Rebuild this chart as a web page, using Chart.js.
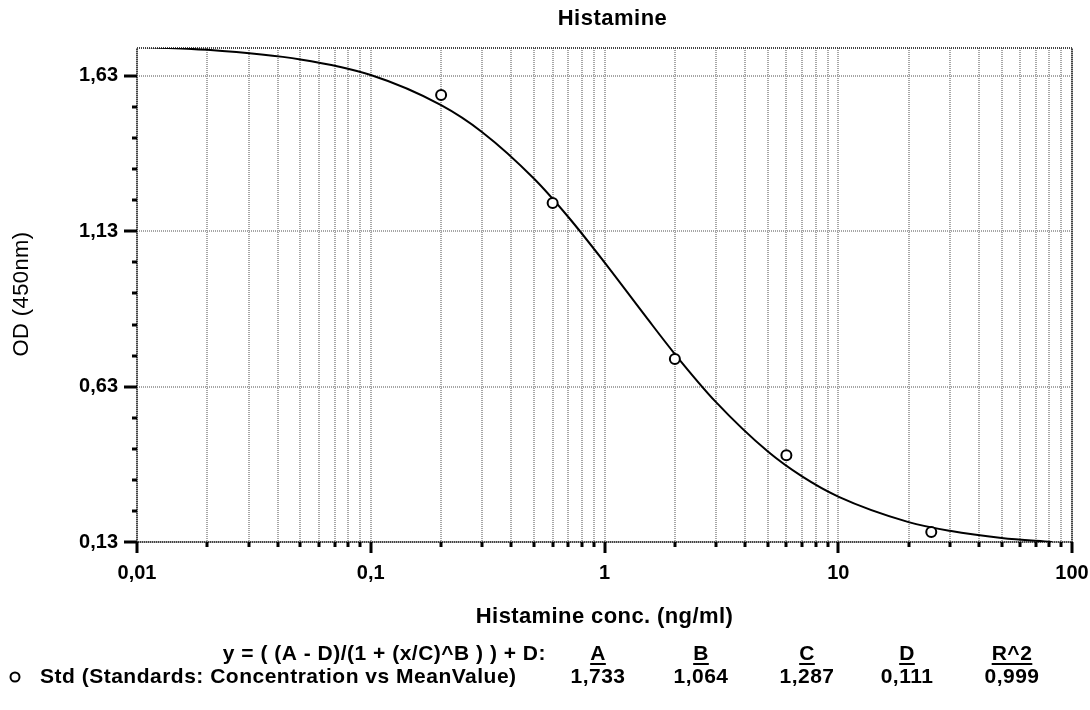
<!DOCTYPE html>
<html>
<head>
<meta charset="utf-8">
<script src="https://cdn.jsdelivr.net/npm/chart.js@4.4.1/dist/chart.umd.min.js"></script>
<style>
  body { margin: 0; background: #fff; }
  canvas { display: block; }
</style>
</head>
<body>
<canvas id="chart" width="1090" height="710"></canvas>
<script>
// standards (measured points)
var stdX = [0.2, 0.6, 2, 6, 25];
var stdY = [1.569, 1.221, 0.719, 0.409, 0.162];

// fitted curve
var curveX = [0.01, 0.02, 0.05, 0.1, 0.2, 0.3, 0.5, 0.7, 1, 1.5, 2, 3, 5, 7, 10, 20, 30, 50, 82];
var curveY = [1.724, 1.714, 1.683, 1.633, 1.536, 1.449, 1.299, 1.176, 1.030, 0.856, 0.735, 0.580, 0.421, 0.341, 0.276, 0.194, 0.166, 0.143, 0.130];

// axes
var xMajor = [0.01, 0.1, 1, 10, 100];
var yMajor = [0.13, 0.63, 1.13, 1.63];
var yMinorStep = 0.1;

// fit table
var fitHeaders = ['A', 'B', 'C', 'D', 'R^2'];
var fitValues = ['1,733', '1,064', '1,287', '0,111', '0,999'];

var FONT = '"Liberation Sans", Arial, sans-serif';

function comma(v, d) {
    return (d === undefined ? String(v) : v.toFixed(d)).replace('.', ',');
}

var xMinor = [];
for (var i = 0; i < xMajor.length - 1; i++) {
    for (var m = 2; m <= 9; m++) xMinor.push(xMajor[i] * m);
}

var decor = {
    id: 'decor',
    beforeDatasetsDraw: function (chart) {
        var ctx = chart.ctx, a = chart.chartArea;
        var xs = chart.scales.x, ys = chart.scales.y;
        ctx.save();
        // grid
        ctx.strokeStyle = '#a6a6a6';
        ctx.lineWidth = 2;
        ctx.setLineDash([1, 1]);
        xMinor.concat(xMajor).forEach(function (v) {
            var px = Math.round(xs.getPixelForValue(v));
            ctx.beginPath();
            ctx.moveTo(px, a.top);
            ctx.lineTo(px, a.bottom);
            ctx.stroke();
        });
        yMajor.forEach(function (v) {
            var py = Math.round(ys.getPixelForValue(v));
            ctx.beginPath();
            ctx.moveTo(a.left, py);
            ctx.lineTo(a.right, py);
            ctx.stroke();
        });
        // frame
        ctx.strokeStyle = '#444';
        ctx.strokeRect(a.left, a.top, a.right - a.left, a.bottom - a.top);
        ctx.setLineDash([]);
        // tick marks
        ctx.strokeStyle = '#000';
        ctx.lineWidth = 3;
        xMajor.forEach(function (v) {
            var px = Math.round(xs.getPixelForValue(v));
            ctx.beginPath(); ctx.moveTo(px, a.bottom); ctx.lineTo(px, a.bottom + 11); ctx.stroke();
        });
        xMinor.forEach(function (v) {
            var px = Math.round(xs.getPixelForValue(v));
            ctx.beginPath(); ctx.moveTo(px, a.bottom); ctx.lineTo(px, a.bottom + 5); ctx.stroke();
        });
        for (var k = 0; ; k++) {
            var v = yMajor[0] + k * yMinorStep;
            if (v > ys.max) break;
            var py = Math.round(ys.getPixelForValue(v));
            var major = k % 5 === 0;
            ctx.beginPath();
            ctx.moveTo(a.left, py);
            ctx.lineTo(a.left - (major ? 13 : 5), py);
            ctx.stroke();
        }
        ctx.restore();
    },
    afterDraw: function (chart) {
        var ctx = chart.ctx, a = chart.chartArea;
        var cx = (a.left + a.right) / 2;
        ctx.save();
        ctx.fillStyle = '#000';
        ctx.textBaseline = 'middle';
        ctx.textAlign = 'center';
        ctx.letterSpacing = '0.5px';
        ctx.font = 'bold 22px ' + FONT;
        ctx.fillText('Histamine', cx + 8, 19);
        ctx.letterSpacing = '0.4px';
        ctx.font = 'bold 22px ' + FONT;
        ctx.fillText('Histamine conc. (ng/ml)', cx, 617);

        ctx.save();
        ctx.translate(22, 294);
        ctx.rotate(-Math.PI / 2);
        ctx.font = '22px ' + FONT;
        ctx.fillText('OD (450nm)', 0, 0);
        ctx.restore();

        // fit table
        ctx.letterSpacing = '0.5px';
        ctx.font = 'bold 21px ' + FONT;
        ctx.textAlign = 'right';
        ctx.fillText('y = ( (A - D)/(1 + (x/C)^B ) ) + D:', 546, 654);
        ctx.textAlign = 'left';
        ctx.fillText('Std (Standards: Concentration vs MeanValue)', 40, 677);
        var cols = [598, 701, 807, 907, 1012];
        ctx.textAlign = 'center';
        ctx.lineWidth = 2;
        ctx.strokeStyle = '#000';
        fitHeaders.forEach(function (h, i) {
            ctx.fillText(h, cols[i], 654);
            var w = ctx.measureText(h).width;
            ctx.beginPath();
            ctx.moveTo(cols[i] - w / 2, 664);
            ctx.lineTo(cols[i] + w / 2, 664);
            ctx.stroke();
            ctx.fillText(fitValues[i], cols[i], 677);
        });
        ctx.beginPath();
        ctx.arc(15, 677, 4.5, 0, Math.PI * 2);
        ctx.stroke();
        ctx.restore();
    }
};

var ctx = document.getElementById('chart').getContext('2d');
var myChart = new Chart(ctx, {
    type: 'line',
    data: {
        datasets: [{
            label: 'Std',
            data: stdX.map(function (x, i) { return { x: x, y: stdY[i] }; }),
            showLine: false,
            pointRadius: 5,
            pointBackgroundColor: '#fff',
            pointBorderColor: '#000',
            pointBorderWidth: 2,
            order: 0
        }, {
            label: 'fit',
            data: curveX.map(function (x, i) { return { x: x, y: curveY[i] }; }),
            borderColor: '#000',
            borderWidth: 2,
            pointRadius: 0,
            fill: false,
            cubicInterpolationMode: 'monotone',
            order: 1
        }]
    },
    options: {
        responsive: false,
        animation: false,
        layout: { padding: { top: 48, right: 18, left: 0, bottom: 0 } },
        plugins: { legend: { display: false }, tooltip: { enabled: false } },
        scales: {
            x: {
                type: 'logarithmic',
                min: 0.01,
                max: 100,
                afterBuildTicks: function (s) { s.ticks = xMajor.map(function (v) { return { value: v }; }); },
                afterFit: function (s) { s.height = 168; s.paddingLeft = 0; s.paddingRight = 0; },
                grid: { display: false, drawTicks: false },
                border: { display: false },
                ticks: {
                    padding: 19,
                    color: '#000',
                    font: { family: FONT, size: 20, weight: 'bold' },
                    maxRotation: 0,
                    autoSkip: false,
                    callback: function (v) { return comma(v); }
                }
            },
            y: {
                type: 'linear',
                min: 0.13,
                max: 1.72,
                afterBuildTicks: function (s) { s.ticks = yMajor.map(function (v) { return { value: v }; }); },
                afterFit: function (s) { s.width = 137; s.paddingTop = 0; s.paddingBottom = 0; },
                grid: { display: false, drawTicks: false },
                border: { display: false },
                ticks: {
                    padding: 19,
                    color: '#000',
                    font: { family: FONT, size: 20, weight: 'bold' },
                    callback: function (v) { return comma(v, 2); }
                }
            }
        }
    },
    plugins: [decor]
});
</script>
</body>
</html>
